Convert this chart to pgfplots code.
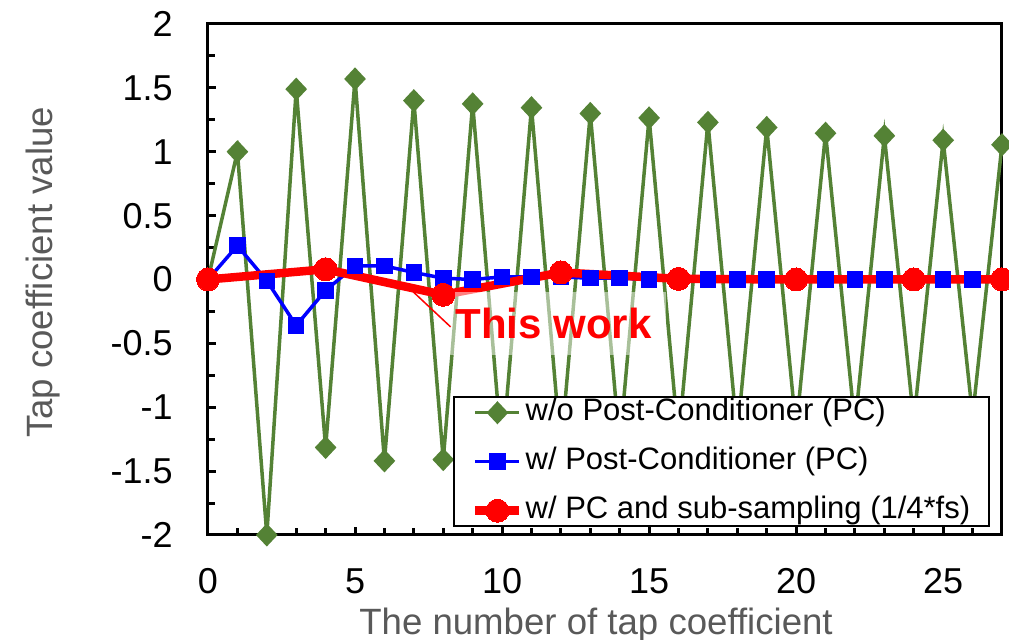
\documentclass[border=0pt]{standalone}
\usepackage{fontspec}
\setmainfont{Liberation Sans}
\usepackage{pgfplots}
\pgfplotsset{compat=1.18}
\definecolor{cgreen}{HTML}{548235}
\definecolor{cgray}{HTML}{595959}
\begin{document}
\begin{tikzpicture}
\path[use as bounding box] (-104pt,-52.5pt) rectangle (400.5pt,267.5pt);
\begin{axis}[
  at={(0,0)}, anchor=south west,
  scale only axis, width=397pt, height=255.5pt,
  xmin=0, xmax=27, ymin=-2, ymax=2,
  clip=false,
  axis line style={line width=1.5pt},
  tick style={line width=1.5pt, black},
  tick align=inside,
  xtick pos=bottom, ytick pos=left,
  xtick={0,5,10,15,20,25}, xticklabels={0,5,10,15,20,25},
  minor xtick={1,2,3,4,6,7,8,9,11,12,13,14,16,17,18,19,21,22,23,24,26,27},
  ytick={-2,-1.5,-1,-0.5,0,0.5,1,1.5,2}, yticklabels={-2,-1.5,-1,-0.5,0,0.5,1,1.5,2},
  minor ytick={-1.75,-1.25,-0.75,-0.25,0.25,0.75,1.25,1.75},
  major tick length=4pt, minor tick length=3.5pt,
  ticklabel style={font=\fontsize{18}{21.6}\selectfont, inner sep=0pt},
  yticklabel style={anchor=east, xshift=-17.5pt},
  xticklabel style={anchor=north, yshift=-16.5pt},
  xlabel={The number of tap coefficient},
  ylabel={Tap coefficient value},
  label style={font=\fontsize{18.3}{22}\selectfont, text=cgray, inner sep=0pt},
  xlabel style={at={(axis description cs:0.5,0)}, anchor=north, yshift=-36.5pt, xshift=-4.5pt},
  ylabel style={at={([xshift=-77.5pt,yshift=3.5pt]axis description cs:0,0.5)}, anchor=base},
  legend style={at={(axis description cs:1,0)}, anchor=south east, xshift=-6pt, yshift=4pt,
    draw=black, line width=0.75pt, font=\fontsize{15.5}{18}\selectfont,
    inner xsep=8.5pt, inner ysep=0pt, row sep=9pt,
    nodes={inner sep=1pt, text height=10.5pt, text depth=3pt}},
  legend cell align=left,
  legend image code/.code={\draw[mark repeat=2,mark phase=2,#1] plot coordinates {(0pt,0pt) (11pt,0pt) (22pt,0pt)};},
]
\addplot[color=cgreen, line width=1.75pt, mark=diamond*, mark size=4.5pt, mark options={xscale=1.25, fill=cgreen}] coordinates {
(0,0)(1,1.0)(2,-2.0)(3,1.49)(4,-1.315)(5,1.57)(6,-1.42)(7,1.40)(8,-1.41)(9,1.375)
(10,-1.37)(11,1.345)(12,-1.33)(13,1.30)(14,-1.29)(15,1.265)(16,-1.25)(17,1.23)(18,-1.21)
(19,1.19)(20,-1.17)(21,1.145)(22,-1.14)(23,1.125)(24,-1.11)(25,1.09)(26,-1.07)(27,1.055)};
\addlegendentry{w/o Post-Conditioner (PC)}
\addplot[color=blue, line width=1.75pt, mark=square*, mark size=3.25pt, mark options={fill=blue}] coordinates {
(0,0)(1,0.265)(2,-0.01)(3,-0.36)(4,-0.085)(5,0.106)(6,0.106)(7,0.055)(8,0.01)(9,0)
(10,0.02)(11,0.02)(12,0.02)(13,0.01)(14,0.01)(15,0)(16,0)(17,0)(18,0)(19,0)(20,0)
(21,0)(22,0)(23,0)(24,0)(25,0)(26,0)(27,0)};
\addlegendentry{w/ Post-Conditioner (PC)}
\addplot[color=red, line width=4.25pt, mark=*, mark size=5.75pt, mark options={fill=red, line width=0pt}] coordinates {
(0,0)(4,0.08)(8,-0.12)(12,0.055)(16,0.005)(20,0)(24,0)(27,0)};
\addlegendentry{w/ PC and sub-sampling (1/4*fs)}
\node[fill=white, fill opacity=0.5, text opacity=1, text=red, font=\bfseries\fontsize{21}{25}\selectfont,
  minimum width=112.5pt, minimum height=31.5pt, inner sep=0pt] at (axis cs:11.75,-0.342) {This work};
\draw[red, line width=0.75pt] (axis cs:6.98,-0.097) -- (axis cs:8.25,-0.371);
\end{axis}
\end{tikzpicture}
\end{document}
